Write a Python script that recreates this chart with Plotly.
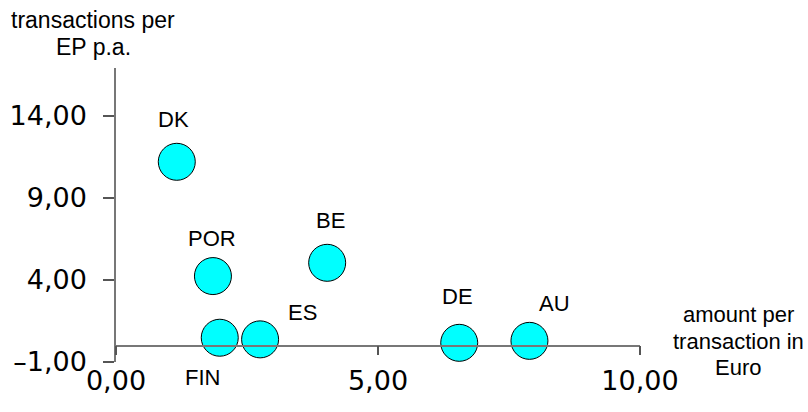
import plotly.graph_objects as go

countries = ["DK", "POR", "FIN", "ES", "BE", "DE", "AU"]
amount_per_transaction = [1.16, 1.85, 1.98, 2.75, 4.03, 6.55, 7.89]
transactions_per_ep = [11.21, 4.24, 0.48, 0.38, 5.05, 0.17, 0.29]

x_tick_vals = [0, 5, 10]
x_tick_text = ["0,00", "5,00", "10,00"]
y_tick_vals = [-1, 4, 9, 14]
y_tick_text = ["\u20131,00", "4,00", "9,00", "14,00"]

y_title_lines = ["transactions per", "EP p.a."]
x_title_lines = ["amount per", "transaction in", "Euro"]

# label offsets in pixels (style only)
label_shift = {
    "DK": (-3, 42), "POR": (-1, 38), "FIN": (-17, -40), "ES": (42, 27),
    "BE": (3, 42), "DE": (-2, 46), "AU": (25, 37),
}

W, H = 808, 412
ML, MT = 116, 68
MR = W - 640
MB = H - 362
Y_RANGE = [-1, 16.93]
X_RANGE = [0, 10]

fig = go.Figure()
fig.add_trace(go.Scatter(
    x=amount_per_transaction, y=transactions_per_ep, mode="markers",
    marker=dict(size=37, color="#00FFFF", line=dict(color="#000000", width=1)),
    showlegend=False, hoverinfo="skip", cliponaxis=False,
))
# invisible copy to carry the crossing x axis at y = 0
fig.add_trace(go.Scatter(
    x=amount_per_transaction, y=transactions_per_ep, mode="markers",
    marker=dict(size=1, opacity=0), xaxis="x2",
    showlegend=False, hoverinfo="skip",
))

for c, xv, yv in zip(countries, amount_per_transaction, transactions_per_ep):
    dx, dy = label_shift[c]
    fig.add_annotation(x=xv, y=yv, text=c, showarrow=False, xshift=dx, yshift=dy,
                       xanchor="center", yanchor="middle",
                       font=dict(family="Liberation Sans, Arial", size=22, color="#000000"))

plot_w = W - ML - MR
plot_h = H - MT - MB
zero_pos = (0 - Y_RANGE[0]) / (Y_RANGE[1] - Y_RANGE[0])


def paper_x(px):
    return (px - ML) / plot_w


def paper_y(py):
    return (H - MB - py) / plot_h


y_title_font = dict(family="Liberation Sans, Arial", size=23, color="#000000")
x_title_font = dict(family="Liberation Sans, Arial", size=22, color="#000000")
for line, py in zip(y_title_lines, [20, 47]):
    fig.add_annotation(xref="paper", yref="paper", x=paper_x(93), y=paper_y(py),
                       xanchor="center", yanchor="middle",
                       text=line, showarrow=False, font=y_title_font)
for line, py in zip(x_title_lines, [314, 341, 367]):
    fig.add_annotation(xref="paper", yref="paper", x=paper_x(738), y=paper_y(py),
                       xanchor="center", yanchor="middle",
                       text=line, showarrow=False, font=x_title_font)

fig.update_layout(
    width=W, height=H,
    margin=dict(l=ML, r=MR, t=MT, b=MB, pad=0, autoexpand=False),
    paper_bgcolor="white", plot_bgcolor="white",
    xaxis=dict(range=X_RANGE, tickvals=x_tick_vals, ticktext=x_tick_text,
               showline=False, showgrid=False, zeroline=False, ticks="",
               automargin=False,
               tickfont=dict(family="DejaVu Sans", size=27, color="#000000"),
               fixedrange=True),
    xaxis2=dict(range=X_RANGE, overlaying="x", anchor="free", position=zero_pos,
                side="bottom", tickvals=x_tick_vals, showticklabels=False,
                showline=True, linecolor="#777777", linewidth=1.5,
                ticks="outside", ticklen=9, tickcolor="#555555", tickwidth=1.5,
                automargin=False,
                showgrid=False, zeroline=False, fixedrange=True),
    yaxis=dict(range=Y_RANGE, tickvals=y_tick_vals, ticktext=y_tick_text,
               showline=True, linecolor="#777777", linewidth=1.5,
               ticks="outside", ticklen=11, tickcolor="#555555", tickwidth=1.5,
               ticklabelstandoff=11, automargin=False,
               showgrid=False, zeroline=False,
               tickfont=dict(family="DejaVu Sans", size=27, color="#000000"),
               fixedrange=True),
)

fig.write_html("out.html", config={"displayModeBar": False},
               post_script="document.body.style.margin='0';document.body.style.overflow='hidden';")
